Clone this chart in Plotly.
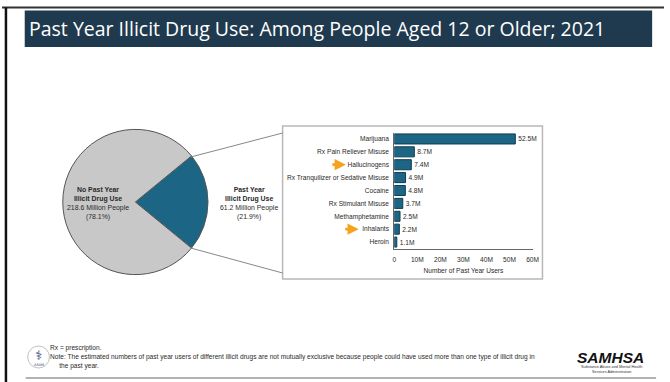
import plotly.graph_objects as go

W, H = 670, 382

# ---- data ----
pie_labels = ["Past Year Illicit Drug Use", "No Past Year Illicit Drug Use"]
pie_values = [61.2, 218.6]
pie_pct = ["21.9%", "78.1%"]

drugs = ["Marijuana", "Rx Pain Reliever Misuse", "Hallucinogens",
         "Rx Tranquilizer or Sedative Misuse", "Cocaine", "Rx Stimulant Misuse",
         "Methamphetamine", "Inhalants", "Heroin"]
users_m = [52.5, 8.7, 7.4, 4.9, 4.8, 3.7, 2.5, 2.2, 1.1]
tick_vals = [0, 10, 20, 30, 40, 50, 60]
tick_text = ["0", "10M", "20M", "30M", "40M", "50M", "60M"]
highlighted = ["Hallucinogens", "Inhalants"]

NARROW = "Liberation Sans, Arial, sans-serif"
TEAL = "#1d6585"
FS = 6.6
TXT = "#2a2a2a"


def px(x):
    return x / W


def py(y):
    return 1 - y / H


fig = go.Figure()

# pie
cx, cy, r = 135, 202, 73.5
teal_frac = pie_values[0] / sum(pie_values)
fig.add_trace(go.Pie(
    labels=pie_labels, values=pie_values, sort=False, direction="clockwise",
    rotation=90 - 180 * teal_frac,
    marker=dict(colors=[TEAL, "#c8c8c8"], line=dict(color="#555555", width=1)),
    textinfo="none", hoverinfo="label+value", showlegend=False,
    domain=dict(x=[px(cx - r), px(cx + r)], y=[py(cy + r), py(cy - r)]),
))

# bars
fig.add_trace(go.Bar(
    y=drugs, x=users_m, orientation="h",
    marker=dict(color=TEAL, line=dict(color="#0e3d52", width=1)),
    text=[f"{v}M" for v in users_m], textposition="outside",
    textfont=dict(family=NARROW, size=FS, color=TXT),
    cliponaxis=False, showlegend=False, width=0.78,
))

fig.update_layout(
    width=W, height=H, margin=dict(l=0, r=0, t=0, b=0),
    paper_bgcolor="white", plot_bgcolor="white",
    xaxis=dict(domain=[px(397), px(537)], range=[0, 60], tickvals=tick_vals,
               ticktext=tick_text, showgrid=False, zeroline=False,
               showline=True, linecolor="#666666", linewidth=1,
               ticks="outside", ticklen=5, tickcolor="rgba(0,0,0,0)",
               tickfont=dict(family=NARROW, size=FS, color=TXT),
               title=dict(text="Number of Past Year Users", standoff=5,
                          font=dict(family=NARROW, size=FS, color=TXT)),
               fixedrange=True),
    yaxis=dict(domain=[py(248.5), py(132.5)], autorange="reversed",
               showgrid=False, zeroline=False, showline=True,
               linecolor="#666666", linewidth=1, ticks="", ticklabelstandoff=3,
               tickfont=dict(family=NARROW, size=FS, color=TXT),
               fixedrange=True),
)

shapes = []
# frame lines
shapes.append(dict(type="line", xref="paper", yref="paper", x0=0, x1=1,
                   y0=py(7.5), y1=py(7.5), line=dict(color="#333333", width=2)))
shapes.append(dict(type="line", xref="paper", yref="paper", x0=px(4), x1=px(4),
                   y0=py(7.5), y1=0, line=dict(color="#111111", width=2.5)))
shapes.append(dict(type="line", xref="paper", yref="paper", x0=px(24), x1=px(662),
                   y0=py(378), y1=py(378), line=dict(color="#999999", width=1.5)))
# title bar
shapes.append(dict(type="rect", xref="paper", yref="paper", x0=px(23), x1=px(658),
                   y0=py(47), y1=py(10.5), fillcolor="#1f3a4e", line=dict(width=0),
                   layer="below"))
# bar chart box
shapes.append(dict(type="rect", xref="paper", yref="paper", x0=px(284), x1=px(547),
                   y0=py(279), y1=py(126), line=dict(color="#b8b8b8", width=1.5),
                   layer="below"))
# connector lines
shapes.append(dict(type="line", xref="paper", yref="paper", x0=px(191), y0=py(157),
                   x1=px(284), y1=py(133), line=dict(color="#888888", width=1)))
shapes.append(dict(type="line", xref="paper", yref="paper", x0=px(191), y0=py(248),
                   x1=px(284), y1=py(273), line=dict(color="#888888", width=1)))
# logo circle
shapes.append(dict(type="circle", xref="paper", yref="paper", x0=px(26), x1=px(48),
                   y0=py(368), y1=py(346), line=dict(color="#c0c0c0", width=1)))
fig.update_layout(shapes=shapes)

ann = []
ann.append(dict(xref="paper", yref="paper", x=px(25), y=py(28.5), xanchor="left",
                yanchor="middle", showarrow=False,
                text="Past Year Illicit Drug Use: Among People Aged 12 or Older; 2021",
                font=dict(family="Open Sans, Noto Sans, sans-serif", size=19.5,
                          color="white")))
# pie labels
ann.append(dict(xref="paper", yref="paper", x=px(97), y=py(203), showarrow=False,
                xanchor="center", yanchor="middle", align="center",
                text=f"<b>No Past Year<br>Illicit Drug Use</b><br>{pie_values[1]} Million People<br>({pie_pct[1]})",
                font=dict(family=NARROW, size=6.9, color=TXT)))
ann.append(dict(xref="paper", yref="paper", x=px(250), y=py(203), showarrow=False,
                xanchor="center", yanchor="middle", align="center",
                text=f"<b>Past Year<br>Illicit Drug Use</b><br>{pie_values[0]} Million People<br>({pie_pct[0]})",
                font=dict(family=NARROW, size=6.9, color=TXT)))
# orange arrows
arrow_x = {"Hallucinogens": (333, 348), "Inhalants": (346, 361)}
for name in highlighted:
    x0, x1 = arrow_x[name]
    ann.append(dict(xref="paper", yref="y", x=px(x1), y=name, ax=-(x1 - x0), ay=0,
                    axref="pixel", ayref="pixel", showarrow=True, arrowhead=2,
                    arrowsize=0.8, arrowwidth=2.8, arrowcolor="#f5a21f", text=""))
# footer
FOOT = "Liberation Sans, Arial, sans-serif"
ann.append(dict(xref="paper", yref="paper", x=px(47), y=py(348), xanchor="left",
                yanchor="middle", showarrow=False, text="Rx = prescription.",
                font=dict(family=FOOT, size=6.6, color=TXT)))
ann.append(dict(xref="paper", yref="paper", x=px(47), y=py(361.5), xanchor="left",
                yanchor="middle", showarrow=False, align="left",
                text="Note: The estimated numbers of past year users of different illicit drugs are not mutually exclusive because people could have used more than one type of illicit drug in<br>     the past year.",
                font=dict(family=FOOT, size=6.6, color=TXT)))
ann.append(dict(xref="paper", yref="paper", x=px(37), y=py(355), showarrow=False,
                xanchor="center", yanchor="middle", text="⚕",
                font=dict(family="DejaVu Sans", size=13, color="#1f3a6e")))
ann.append(dict(xref="paper", yref="paper", x=px(37), y=py(365), showarrow=False,
                xanchor="center", yanchor="middle", text="ASAM",
                font=dict(family="DejaVu Sans", size=3.5, color="#1f3a6e")))
ann.append(dict(xref="paper", yref="paper", x=px(616), y=py(357), showarrow=False,
                xanchor="center", yanchor="middle", text="<b><i>SAMHSA</i></b>",
                font=dict(family="Liberation Sans, Arial, sans-serif", size=15.5,
                          color="#111111")))
ann.append(dict(xref="paper", yref="paper", x=px(617), y=py(369.5), showarrow=False,
                xanchor="center", yanchor="middle", align="center",
                text="Substance Abuse and Mental Health<br>Services Administration",
                font=dict(family=NARROW, size=3.8, color="#333333")))
fig.update_layout(annotations=ann)

fig.write_html("out.html")
